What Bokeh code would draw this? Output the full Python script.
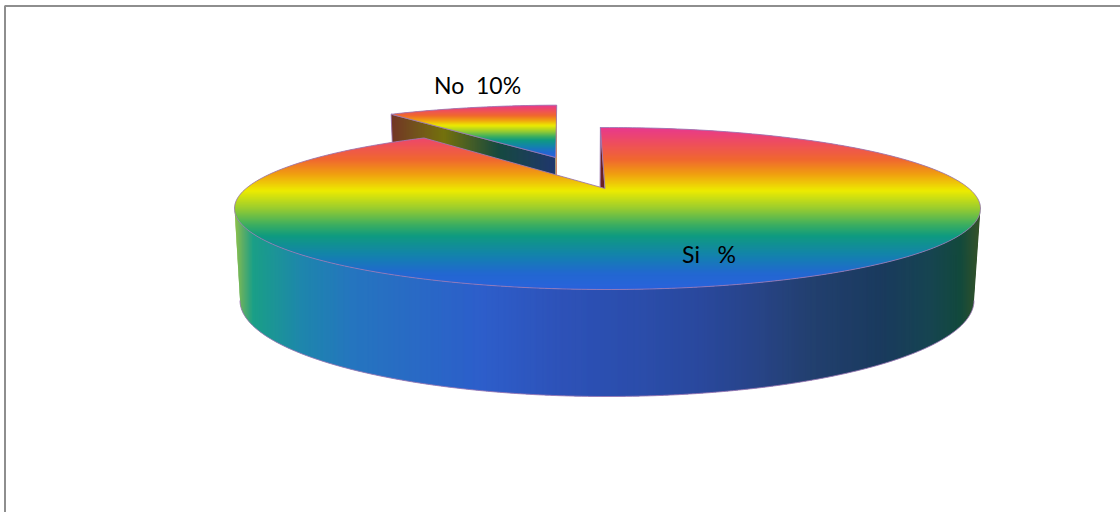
import math
from bokeh.embed import file_html
from bokeh.resources import INLINE
from bokeh.plotting import figure
from bokeh.models import Range1d, ColumnDataSource
from bokeh.core.properties import value

# Chart values
categories = ["Si", "No"]
shares = [90, 10]
slice_labels = ["Si\u00a0\u00a0\u00a0%", "No\u00a0\u00a010%"]

# Colour ramps: (fraction along the ramp, colour)
face_stops = [(0.00, "#E8388E"), (0.10, "#EE4F5C"), (0.20, "#F0682E"), (0.29, "#F0A010"),
              (0.39, "#EDEB00"), (0.50, "#98CC30"), (0.60, "#3CAE60"), (0.67, "#0F9A80"),
              (0.80, "#1480B0"), (0.90, "#2268D0"), (1.00, "#2A62DC")]
side_stops = [(0.000, "#8ABF40"), (0.012, "#50A860"), (0.025, "#0E9A80"), (0.090, "#1280A8"),
              (0.160, "#1A6EBC"), (0.330, "#2256C8"), (0.440, "#2249B4"), (0.545, "#2044A6"),
              (0.625, "#1E3F98"), (0.705, "#1C3A80"), (0.772, "#173668"), (0.866, "#0E3056"),
              (0.933, "#0A3B48"), (0.973, "#064032"), (1.000, "#2E4A1C")]
inner_stops = [(0.00, "#6B2A1A"), (0.15, "#6B4A10"), (0.32, "#6D6A00"), (0.65, "#0A4035"), (1.00, "#142C66")]


def rgb(h):
    return tuple(int(h[i:i + 2], 16) for i in (1, 3, 5))


def ramp(stops, t):
    t = max(0.0, min(1.0, t))
    for (t0, c0), (t1, c1) in zip(stops, stops[1:]):
        if t <= t1:
            f = (t - t0) / (t1 - t0)
            a, b = rgb(c0), rgb(c1)
            return "#%02x%02x%02x" % tuple(round(a[i] + (b[i] - a[i]) * f) for i in range(3))
    return stops[-1][1]


def clip_half(poly, axis, limit, keep_greater):
    out = []
    n = len(poly)
    for i in range(n):
        p, q = poly[i], poly[(i + 1) % n]
        pin = (p[axis] >= limit) if keep_greater else (p[axis] <= limit)
        qin = (q[axis] >= limit) if keep_greater else (q[axis] <= limit)
        if pin:
            out.append(p)
        if pin != qin:
            f = (limit - p[axis]) / (q[axis] - p[axis])
            out.append((p[0] + (q[0] - p[0]) * f, p[1] + (q[1] - p[1]) * f))
    return out


def band_strips(poly, axis, lo, hi, stops, step=1.0, extent=None):
    """Cut a polygon into thin bands along one axis, each with its ramp colour."""
    e0, e1 = extent if extent else (lo, hi)
    xs, ys, cs = [], [], []
    v = lo
    while v < hi:
        piece = clip_half(clip_half(poly, axis, v, True), axis, v + step + 0.4, False) if poly else []
        if piece:
            xs.append([a for a, _ in piece])
            ys.append([b for _, b in piece])
            cs.append(ramp(stops, (v + step / 2 - e0) / (e1 - e0)))
        v += step
    return xs, ys, cs


# Tilted disc: centre and radii of the rim, and how far the view shifts the hub
CX, CY, RX, RY = 607.0, 208.0, 373.0, 81.0
BASE_CX, BASE_CY, BASE_RX, BASE_RY = 606.5, 300.0, 367.0, 96.0
HUB = -0.247
START_DEG = -1.4
EXPLODE = 0.38


def project(u, v, shift=(0.0, 0.0)):
    d = 1 + HUB * v
    return (CX + RX * u * math.sqrt(1 - HUB ** 2) / d + shift[0],
            CY + RY * (v + HUB) / d + shift[1])


def rim_point(deg, offset=(0.0, 0.0), shift=(0.0, 0.0)):
    a = math.radians(deg)
    return project(math.sin(a) + offset[0], -math.cos(a) + offset[1], shift)


def drop(pt):
    """Point on the base below a point on the rim."""
    u = (pt[0] - CX) / RX
    v = (pt[1] - CY) / RY
    return (BASE_CX + BASE_RX * u, BASE_CY + BASE_RY * v)


total = sum(shares)
si_end = START_DEG + 360 * shares[0] / total
no_end = si_end + 360 * shares[1] / total

# Main slice outline
si_arc = [rim_point(START_DEG + (si_end - START_DEG) * i / 360) for i in range(361)]
si_hub = (project(0, 0)[0] - 2.5, project(0, 0)[1])
si_face = si_arc + [si_hub]

# Pulled-out slice outline
mid = math.radians((si_end + no_end) / 2)
off = (math.sin(mid) * EXPLODE, -math.cos(mid) * EXPLODE)
NO_SHIFT = (-10.0, -6.0)
no_arc = [rim_point(si_end + (no_end - si_end) * i / 60, off, NO_SHIFT) for i in range(61)]
no_hub = project(off[0], off[1], NO_SHIFT)
no_face = no_arc + [no_hub]

# Curved outer side: front half of the rim, then the base ring back again
front_top = [(CX + RX * math.cos(math.radians(d)), CY + RY * math.sin(math.radians(d))) for d in range(0, 181)]
front_base = [(BASE_CX + BASE_RX * math.cos(math.radians(d)), BASE_CY + BASE_RY * math.sin(math.radians(d)))
              for d in range(180, -1, -1)]
outer_side = front_top + front_base

# Flat cut sides
no_inner = [no_arc[0], no_hub, drop(no_hub), drop(no_arc[0])]
no_cut = [no_arc[-1], no_hub, drop(no_hub), drop(no_arc[-1])]
si_cut = [si_arc[0], si_hub, drop(si_hub), drop(si_arc[0])]

p = figure(width=1120, height=512, x_range=Range1d(0, 1120), y_range=Range1d(512, 0),
           output_backend="svg", toolbar_location=None, x_axis_type=None, y_axis_type=None,
           min_border=0, outline_line_color=None, background_fill_color="white",
           border_fill_color="white")
p.grid.visible = False

# Frame of the chart area, open towards the right and the bottom
p.line([1125, 4.5, 4.5], [5.5, 5.5, 517], line_color="#8E8E8E", line_width=2)


def draw(xs, ys, cs):
    p.patches(xs="xs", ys="ys", fill_color="c", fill_alpha=1.0, line_color=None,
              source=ColumnDataSource(dict(xs=xs, ys=ys, c=cs)))


def edge(points, closed=True):
    pts = points + points[:1] if closed else points
    p.line([a for a, _ in pts], [b for _, b in pts], line_color="#9A78B4", line_width=1, line_alpha=0.85)


# Pulled-out slice, back to front
x0, x1 = no_arc[0][0], no_hub[0]
draw(*band_strips(no_inner, 0, math.floor(x0), math.ceil(x1), inner_stops, extent=(x0, x1)))
edge(no_inner)
cx0, cx1 = min(no_hub[0], no_arc[-1][0]), max(no_hub[0], no_arc[-1][0])
draw(*band_strips(no_cut, 0, math.floor(cx0), math.ceil(cx1) + 1,
                  [(0, "#7CC83C"), (0.5, "#D0D020"), (1, "#E8388E")], extent=(cx0, cx1)))
ny0, ny1 = min(b for _, b in no_face), max(b for _, b in no_face)
draw(*band_strips(no_face, 1, math.floor(ny0), math.ceil(ny1), face_stops, extent=(ny0, ny1)))
edge(no_face)

# Main slice: cut wall, curved side and top face
p.patch([a for a, _ in si_cut], [b for _, b in si_cut], fill_color="#6B2222", fill_alpha=1.0,
        line_color="#9A78B4", line_width=1)
draw(*band_strips(outer_side, 0, CX - RX, CX + RX, side_stops))
edge(front_base, closed=False)
fy0, fy1 = min(b for _, b in si_face), CY + RY
draw(*band_strips(si_face, 1, math.floor(fy0), math.ceil(fy1), face_stops, extent=(fy0, fy1)))
edge(si_face)

# Slice labels
label_font = value("Lato")
p.text(x=[708.5, 477], y=[253, 84], text=slice_labels, text_font=label_font, text_font_size="23px",
       text_color="#000000", text_align="center", text_baseline="middle")

open("out.html", "w").write(file_html(p, INLINE))
